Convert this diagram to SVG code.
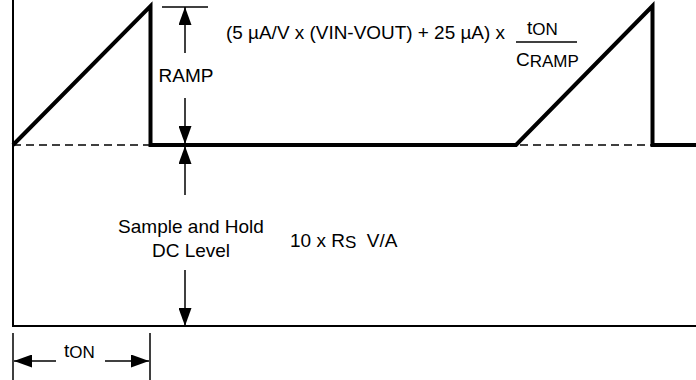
<svg xmlns="http://www.w3.org/2000/svg" width="696" height="380" viewBox="0 0 696 380">
<style>
text{font-family:"Liberation Sans",Arial,Helvetica,sans-serif;font-size:19px;fill:#000}
.sub{font-size:17px}
.axis{stroke:#000;stroke-width:2;fill:none}
.wave{stroke:#000;stroke-width:4;fill:none;stroke-linejoin:miter}
.dash{stroke:#000;stroke-width:1.5;stroke-dasharray:8 5;fill:none}
.dim{stroke:#000;stroke-width:1.5;fill:none}
.arr{stroke:#000;stroke-width:1.5;fill:none;marker-end:url(#ah)}
</style>
<defs>
<marker id="ah" viewBox="0 0 18 13" refX="18" refY="6.5" markerWidth="18" markerHeight="13" markerUnits="userSpaceOnUse" orient="auto">
<path d="M0,0 L18,6.5 L0,13 Z" fill="#000"/>
</marker>
</defs>
<rect width="696" height="380" fill="#fff"/>
<g id="axes">
<path class="axis" d="M13,0 V326 H696"/>
<path class="dash" d="M13,145 H696"/>
</g>
<g id="waveform">
<path class="wave" d="M13,145 L150.5,6 V145 H516 L652.5,6 V145 H696"/>
</g>
<g id="connectors">
<path class="dim" d="M162,7 H208"/>
<line class="arr" x1="185" y1="53" x2="185" y2="7"/>
<line class="arr" x1="185" y1="98" x2="185" y2="144"/>
<line class="arr" x1="185" y1="195" x2="185" y2="146"/>
<line class="arr" x1="185" y1="270" x2="185" y2="326"/>
<path class="dim" d="M13,333 V380 M150,333 V380"/>
<line class="arr" x1="56" y1="361" x2="14" y2="361"/>
<line class="arr" x1="105" y1="361" x2="149" y2="361"/>
<path class="dim" d="M516,42 H577"/>
</g>
<g id="labels">
<text x="186" y="82" text-anchor="middle">RAMP</text>
<text x="226" y="39" textLength="279" lengthAdjust="spacingAndGlyphs">(5 µA/V x (VIN-VOUT) + 25 µA) x</text>
<text x="527" y="34">t<tspan class="sub" dy="1">ON</tspan></text>
<text x="516" y="66">C<tspan class="sub" dy="1">RAMP</tspan></text>
<text x="191" y="233" text-anchor="middle">Sample and Hold</text>
<text x="191" y="257" text-anchor="middle">DC Level</text>
<text x="290" y="247">10 x R<tspan class="sub" dy="1">S</tspan><tspan dy="-1" xml:space="preserve">  V/A</tspan></text>
<text x="64" y="357">t<tspan class="sub" dy="1">ON</tspan></text>
</g>
</svg>
